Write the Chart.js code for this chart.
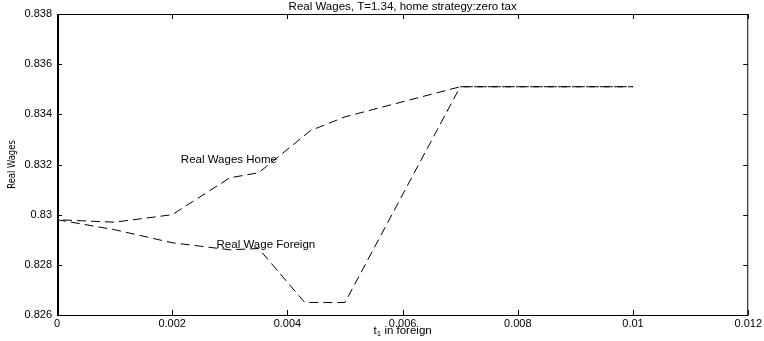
<!DOCTYPE html>
<html>
<head>
<meta charset="utf-8">
<script src="https://cdn.jsdelivr.net/npm/chart.js@4"></script>
<style>
  html, body { margin: 0; padding: 0; background: #fff; }
  #wrap { width: 764px; height: 341px; }
</style>
</head>
<body>
<div id="wrap"><canvas id="c" width="764" height="341"></canvas></div>
<script>
// Real wages vs t1 in foreign
const xHome = [0, 0, 0.001, 0.002, 0.003, 0.0035, 0.0044, 0.005, 0.007, 0.01];
const yHome = [0.8357, 0.8298, 0.8297, 0.8300, 0.83147, 0.83167, 0.83335, 0.8339, 0.8351, 0.8351];
const xForeign = [0, 0.001, 0.002, 0.003, 0.0035, 0.0043, 0.005, 0.007, 0.01];
const yForeign = [0.8298, 0.8294, 0.82888, 0.8286, 0.82865, 0.8265, 0.8265, 0.8351, 0.8351];
const xTicks = [0, 0.002, 0.004, 0.006, 0.008, 0.01, 0.012];
const yTicks = [0.826, 0.828, 0.83, 0.832, 0.834, 0.836, 0.838];
const titleText = 'Real Wages, T=1.34, home strategy:zero tax';
const labels = [
  { text: 'Real Wages Home', x: 0.00215, y: 0.83219 },
  { text: 'Real Wage Foreign', x: 0.00277, y: 0.8288 },
];

const FONT = '"Liberation Sans", Arial, Helvetica, sans-serif';

const toPts = (xs, ys) => xs.map((x, i) => ({ x, y: ys[i] }));
const fmtTick = v => String(Number(v.toFixed(4)));

const decor = {
  id: 'decor',
  afterDraw(chart) {
    const { ctx, chartArea: a, scales } = chart;
    const sx = scales.x, sy = scales.y;
    ctx.save();
    // caja
    ctx.strokeStyle = '#000';
    ctx.lineWidth = 1;
    ctx.strokeRect(a.left + 0.5, a.top + 0.5, a.right - a.left - 1, a.bottom - a.top);
    ctx.beginPath();
    ctx.moveTo(a.left + 1.5, a.top);
    ctx.lineTo(a.left + 1.5, a.bottom);
    ctx.stroke();
    // ticks hacia adentro
    const len = 5;
    ctx.beginPath();
    for (const t of xTicks) {
      const px = Math.round(sx.getPixelForValue(t)) + 0.5;
      ctx.moveTo(px, a.bottom); ctx.lineTo(px, a.bottom - len);
      ctx.moveTo(px, a.top); ctx.lineTo(px, a.top + len);
    }
    for (const t of yTicks) {
      const py = Math.round(sy.getPixelForValue(t)) + 0.5;
      ctx.moveTo(a.left, py); ctx.lineTo(a.left + len, py);
      ctx.moveTo(a.right, py); ctx.lineTo(a.right - len, py);
    }
    ctx.stroke();
    // titulo
    ctx.fillStyle = '#000';
    ctx.font = '11.5px ' + FONT;
    ctx.textAlign = 'center';
    ctx.textBaseline = 'middle';
    ctx.fillText(titleText, (a.left + a.right) / 2, 7);
    // etiquetas dentro del grafico
    ctx.textAlign = 'left';
    for (const l of labels) {
      ctx.fillText(l.text, sx.getPixelForValue(l.x), sy.getPixelForValue(l.y));
    }
    // titulo eje x con subindice
    const cx = (a.left + a.right) / 2;
    const p1 = 't', sub = '1', p2 = ' in foreign';
    ctx.font = '11.5px ' + FONT;
    const w1 = ctx.measureText(p1).width;
    const w3 = ctx.measureText(p2).width;
    ctx.font = '8px ' + FONT;
    const w2 = ctx.measureText(sub).width;
    let x0 = cx - (w1 + w2 + w3) / 2;
    ctx.font = '11.5px ' + FONT;
    ctx.fillText(p1, x0, 331);
    ctx.font = '8px ' + FONT;
    ctx.fillText(sub, x0 + w1, 334);
    ctx.font = '11.5px ' + FONT;
    ctx.fillText(p2, x0 + w1 + w2, 331);
    // titulo eje y
    ctx.save();
    ctx.translate(12, (a.top + a.bottom) / 2);
    ctx.rotate(-Math.PI / 2);
    ctx.textAlign = 'center';
    ctx.font = '11px "DejaVu Sans Condensed", "Liberation Sans Narrow", sans-serif';
    ctx.transform(0.85, 0, 0, 1, 0, 0);
    ctx.fillText('Real Wages', 0, 0);
    ctx.restore();
    ctx.restore();
  }
};

const lineStyle = {
  showLine: true,
  borderColor: '#000',
  borderWidth: 1,
  borderDash: [9, 5],
  pointRadius: 0,
  fill: false,
  tension: 0,
};

new Chart(document.getElementById('c'), {
  type: 'scatter',
  data: {
    datasets: [
      { label: 'Home', data: toPts(xHome, yHome), ...lineStyle },
      { label: 'Foreign', data: toPts(xForeign, yForeign), ...lineStyle },
    ],
  },
  options: {
    responsive: false,
    animation: false,
    devicePixelRatio: 1,
    layout: { padding: { top: 14, right: 15, left: 0, bottom: 0 } },
    plugins: { legend: { display: false }, tooltip: { enabled: false } },
    scales: {
      x: {
        type: 'linear',
        min: 0, max: 0.012,
        afterBuildTicks: s => { s.ticks = xTicks.map(v => ({ value: v })); },
        afterFit: s => { s.height = 26; },
        grid: { display: false, drawTicks: false },
        border: { display: false },
        ticks: { color: '#000', font: { family: FONT, size: 11 }, padding: 2, callback: fmtTick, maxRotation: 0 },
      },
      y: {
        type: 'linear',
        min: 0.826, max: 0.838,
        afterBuildTicks: s => { s.ticks = yTicks.map(v => ({ value: v })); },
        afterFit: s => { s.width = 57; },
        grid: { display: false, drawTicks: false },
        border: { display: false },
        ticks: { color: '#000', font: { family: FONT, size: 11 }, padding: 5, callback: fmtTick },
      },
    },
  },
  plugins: [decor],
});
</script>
</body>
</html>
